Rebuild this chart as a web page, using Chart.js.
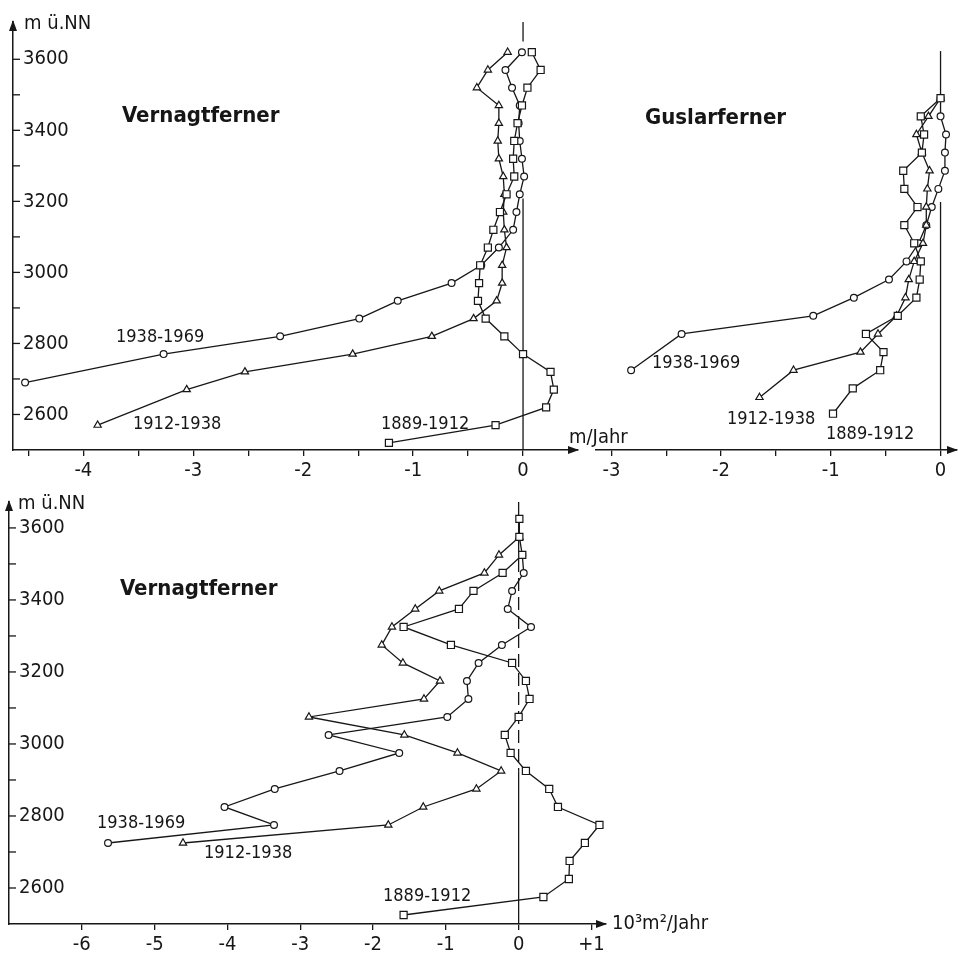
<!DOCTYPE html>
<html>
<head>
<meta charset="utf-8">
<title>Vernagtferner / Guslarferner</title>
<script src="https://cdn.jsdelivr.net/npm/chart.js@4.4.1/dist/chart.umd.min.js"></script>
<style>
  body { margin: 0; background: #fff; }
  #wrap { position: relative; width: 958px; height: 959px; overflow: hidden;
          font-family: 'DejaVu Sans Condensed', 'DejaVu Sans', sans-serif; color: #161616; }
  canvas { position: absolute; }
  .lbl { position: absolute; white-space: nowrap; font-size: 18px; line-height: 1; transform: translateY(-50%); }
  .achse { font-size: 20px; }
  .name { font-size: 22px; font-weight: bold; }
</style>
</head>
<body>
<div id="wrap">
  <canvas id="c1" width="590" height="480" style="left:0px;top:0px"></canvas>
  <canvas id="c2" width="368" height="480" style="left:590px;top:0px"></canvas>
  <canvas id="c3" width="720" height="479" style="left:0px;top:480px"></canvas>

  <div class="lbl achse" style="left:24px;top:22px">m ü.NN</div>
  <div class="lbl name" style="left:122px;top:115px">Vernagtferner</div>
  <div class="lbl" style="left:116px;top:336px">1938-1969</div>
  <div class="lbl" style="left:133px;top:423px">1912-1938</div>
  <div class="lbl" style="left:381px;top:423px">1889-1912</div>
  <div class="lbl achse" style="left:569px;top:436px">m/Jahr</div>

  <div class="lbl name" style="left:645px;top:117px">Guslarferner</div>
  <div class="lbl" style="left:652px;top:362px">1938-1969</div>
  <div class="lbl" style="left:727px;top:418px">1912-1938</div>
  <div class="lbl" style="left:826px;top:433px">1889-1912</div>

  <div class="lbl achse" style="left:18px;top:502px">m ü.NN</div>
  <div class="lbl name" style="left:120px;top:588px">Vernagtferner</div>
  <div class="lbl" style="left:97px;top:822px">1938-1969</div>
  <div class="lbl" style="left:204px;top:852px">1912-1938</div>
  <div class="lbl" style="left:383px;top:895px">1889-1912</div>
  <div class="lbl achse" style="left:612px;top:922px">10³m²/Jahr</div>
</div>

<script>
// Vernagtferner, Dickenaenderung in m/Jahr je Hoehenstufe
const vernHoehe1889 = [2520, 2570, 2620, 2670, 2720, 2770, 2820, 2870, 2920, 2970, 3020, 3070, 3120, 3170, 3220, 3270, 3320, 3370, 3420, 3470, 3520, 3570, 3620];
const vern1889 = [-1.22, -0.25, 0.21, 0.28, 0.25, 0.00, -0.17, -0.34, -0.41, -0.40, -0.39, -0.32, -0.27, -0.21, -0.15, -0.08, -0.09, -0.08, -0.05, -0.01, 0.04, 0.16, 0.08];
const vernHoehe1912 = [2570, 2670, 2720, 2770, 2820, 2870, 2920, 2970, 3020, 3070, 3120, 3170, 3220, 3270, 3320, 3370, 3420, 3470, 3520, 3570, 3620];
const vern1912 = [-3.87, -3.06, -2.53, -1.55, -0.83, -0.45, -0.24, -0.19, -0.19, -0.15, -0.17, -0.18, -0.17, -0.18, -0.22, -0.23, -0.22, -0.22, -0.42, -0.32, -0.14];
const vernHoehe1938 = [2690, 2770, 2820, 2870, 2920, 2970, 3020, 3070, 3120, 3170, 3220, 3270, 3320, 3370, 3420, 3470, 3520, 3570, 3620];
const vern1938 = [-4.53, -3.27, -2.21, -1.49, -1.14, -0.65, -0.38, -0.22, -0.09, -0.06, -0.03, 0.01, -0.01, -0.03, -0.04, -0.03, -0.10, -0.16, -0.01];

// Guslarferner, m/Jahr
const gusHoehe1889 = [2600, 2670, 2720, 2770, 2820, 2870, 2920, 2970, 3020, 3070, 3120, 3170, 3220, 3270, 3320, 3370, 3420, 3470];
const gus1889 = [-0.98, -0.80, -0.55, -0.52, -0.68, -0.39, -0.22, -0.19, -0.18, -0.24, -0.33, -0.21, -0.33, -0.34, -0.17, -0.15, -0.18, 0.00];
const gusHoehe1912 = [2645, 2720, 2770, 2820, 2870, 2920, 2970, 3020, 3070, 3120, 3170, 3220, 3270, 3320, 3370, 3420, 3470];
const gus1912 = [-1.65, -1.34, -0.73, -0.57, -0.40, -0.32, -0.29, -0.24, -0.16, -0.13, -0.13, -0.12, -0.10, -0.17, -0.22, -0.11, 0.00];
const gusHoehe1938 = [2720, 2820, 2870, 2920, 2970, 3020, 3070, 3120, 3170, 3220, 3270, 3320, 3370, 3420, 3470];
const gus1938 = [-2.82, -2.36, -1.16, -0.79, -0.47, -0.31, -0.20, -0.13, -0.08, -0.02, 0.04, 0.04, 0.05, 0.00, 0.00];

// Vernagtferner, Volumenaenderung in 10^3 m^2/Jahr
const flHoehe1889 = [2525, 2575, 2625, 2675, 2725, 2775, 2825, 2875, 2925, 2975, 3025, 3075, 3125, 3175, 3225, 3275, 3325, 3375, 3425, 3475, 3525, 3575, 3625];
const fl1889 = [-1.58, 0.34, 0.69, 0.70, 0.91, 1.11, 0.54, 0.42, 0.10, -0.11, -0.19, 0.00, 0.15, 0.10, -0.09, -0.93, -1.58, -0.82, -0.62, -0.22, 0.05, 0.01, 0.01];
const flHoehe1912 = [2725, 2775, 2825, 2875, 2925, 2975, 3025, 3075, 3125, 3175, 3225, 3275, 3325, 3375, 3425, 3475, 3525, 3575];
const fl1912 = [-4.61, -1.79, -1.31, -0.58, -0.24, -0.84, -1.57, -2.88, -1.30, -1.08, -1.59, -1.88, -1.74, -1.42, -1.09, -0.47, -0.27, 0.01];
const flHoehe1938 = [2725, 2775, 2825, 2875, 2925, 2975, 3025, 3075, 3125, 3175, 3225, 3275, 3325, 3375, 3425, 3475, 3525];
const fl1938 = [-5.64, -3.36, -4.04, -3.35, -2.46, -1.64, -2.61, -0.98, -0.69, -0.71, -0.55, -0.23, 0.17, -0.15, -0.09, 0.07, 0.05];

// Achsenteilung
const hoeheTicks = [2600, 2700, 2800, 2900, 3000, 3100, 3200, 3300, 3400, 3500, 3600];
const vernXTicks = [-4.5, -4, -3.5, -3, -2.5, -2, -1.5, -1, -0.5, 0];
const gusXTicks = [-3, -2.5, -2, -1.5, -1, -0.5, 0];
const flXTicks = [-6, -5, -4, -3, -2, -1, 0, 1];

const INK = '#171717';
const FONT = "'DejaVu Sans Condensed', 'DejaVu Sans', sans-serif";

function reihe(label, hoehen, werte, stil, radius) {
    return {
        label: label,
        data: hoehen.map((h, i) => ({ x: werte[i], y: h })),
        showLine: true,
        borderColor: INK,
        borderWidth: 1.3,
        pointStyle: stil,
        pointRadius: radius,
        pointBackgroundColor: '#fff',
        pointBorderColor: INK,
        pointBorderWidth: 1.2,
        tension: 0,
        clip: false
    };
}

function xLabel(v) {
    if (!Number.isInteger(v)) return '';
    if (v > 0) return '+' + v;
    return v < 0 ? '-' + Math.abs(v) : '0';
}

function pfeil(ctx, x, y, richtung) {
    ctx.beginPath();
    if (richtung === 'rechts') {
        ctx.moveTo(x, y); ctx.lineTo(x - 11, y - 4); ctx.lineTo(x - 11, y + 4);
    } else {
        ctx.moveTo(x, y); ctx.lineTo(x - 4, y + 11); ctx.lineTo(x + 4, y + 11);
    }
    ctx.closePath();
    ctx.fill();
}

// Null-Linie, y-Teilstriche und Pfeile
function zierde(opt) {
    return {
        id: 'zierde',
        beforeDatasetsDraw(chart) {
            const ctx = chart.ctx, xs = chart.scales.x, ys = chart.scales.y;
            const x0 = xs.getPixelForValue(0);
            ctx.save();
            ctx.strokeStyle = INK;
            ctx.lineWidth = 1.3;
            opt.nullLinie.forEach(seg => {
                ctx.setLineDash(seg.strich ? [13, 6] : []);
                ctx.beginPath();
                ctx.moveTo(x0, ys.getPixelForValue(seg.von));
                ctx.lineTo(x0, ys.getPixelForValue(seg.bis));
                ctx.stroke();
            });
            ctx.restore();
        },
        afterDraw(chart) {
            const ctx = chart.ctx, a = chart.chartArea, ys = chart.scales.y;
            ctx.save();
            ctx.strokeStyle = INK;
            ctx.fillStyle = INK;
            ctx.lineWidth = 1.3;
            if (opt.yAchse) {
                ys.ticks.forEach(t => {
                    const y = ys.getPixelForValue(t.value);
                    ctx.beginPath();
                    ctx.moveTo(a.left, y);
                    ctx.lineTo(a.left + 7, y);
                    ctx.stroke();
                });
                pfeil(ctx, a.left, a.top - 2, 'oben');
            }
            pfeil(ctx, a.right + 1, a.bottom, 'rechts');
            ctx.restore();
        }
    };
}

function diagramm(id, cfg) {
    const yAchse = cfg.yAchse;
    new Chart(document.getElementById(id), {
        type: 'scatter',
        data: { datasets: cfg.datasets },
        options: {
            responsive: false,
            animation: false,
            events: [],
            layout: { padding: cfg.padding, autoPadding: false },
            plugins: { legend: { display: false }, tooltip: { enabled: false } },
            scales: {
                x: {
                    type: 'linear',
                    min: cfg.xMin,
                    max: cfg.xMax,
                    afterBuildTicks: s => { s.ticks = cfg.xTicks.map(v => ({ value: v })); },
                    afterFit: s => { s.height = cfg.xHoehe; },
                    grid: { display: true, drawOnChartArea: false, drawTicks: true, tickLength: 6, color: INK, lineWidth: 1.3 },
                    border: { display: true, color: INK, width: 1.5 },
                    ticks: {
                        autoSkip: false, maxRotation: 0, padding: 3, color: INK,
                        font: { family: FONT, size: 20 },
                        callback: v => xLabel(v)
                    }
                },
                y: {
                    type: 'linear',
                    display: yAchse,
                    min: 2500,
                    max: cfg.yMax,
                    afterBuildTicks: s => { s.ticks = hoeheTicks.map(v => ({ value: v })); },
                    afterFit: s => { s.width = 0; },
                    grid: { display: false },
                    border: { display: true, color: INK, width: 1.5 },
                    ticks: {
                        mirror: true, padding: 10, color: INK,
                        font: { family: FONT, size: 20 },
                        callback: v => (v % 200 === 0 ? String(v) : '')
                    }
                }
            }
        },
        plugins: [zierde({ nullLinie: cfg.nullLinie, yAchse: yAchse })]
    });
}

diagramm('c1', {
    datasets: [
        reihe('1889-1912', vernHoehe1889, vern1889, 'rect', 5),
        reihe('1912-1938', vernHoehe1912, vern1912, 'triangle', 4.2),
        reihe('1938-1969', vernHoehe1938, vern1938, 'circle', 3.4)
    ],
    padding: { left: 13, right: 12, top: 13, bottom: 0 },
    xMin: -4.64, xMax: 0.5, xTicks: vernXTicks, xHoehe: 30,
    yMax: 3705, yAchse: true,
    nullLinie: [{ von: 3705, bis: 3650 }, { von: 3208, bis: 2500 }]
});

diagramm('c2', {
    datasets: [
        reihe('1889-1912', gusHoehe1889, gus1889, 'rect', 5),
        reihe('1912-1938', gusHoehe1912, gus1912, 'triangle', 4.2),
        reihe('1938-1969', gusHoehe1938, gus1938, 'circle', 3.4)
    ],
    padding: { left: 6, right: 1, top: 13, bottom: 0 },
    xMin: -3.14, xMax: 0.15, xTicks: gusXTicks, xHoehe: 30,
    yMax: 3705, yAchse: false,
    nullLinie: [{ von: 3600, bis: 3478 }, { von: 3184, bis: 2500 }]
});

diagramm('c3', {
    datasets: [
        reihe('1889-1912', flHoehe1889, fl1889, 'rect', 5),
        reihe('1912-1938', flHoehe1912, fl1912, 'triangle', 4.2),
        reihe('1938-1969', flHoehe1938, fl1938, 'circle', 3.4)
    ],
    padding: { left: 9, right: 114, top: 18, bottom: 0 },
    xMin: -7.0, xMax: 1.2, xTicks: flXTicks, xHoehe: 35,
    yMax: 3672, yAchse: true,
    nullLinie: [{ von: 3672, bis: 2923, strich: true }, { von: 2923, bis: 2500 }]
});
</script>
</body>
</html>
